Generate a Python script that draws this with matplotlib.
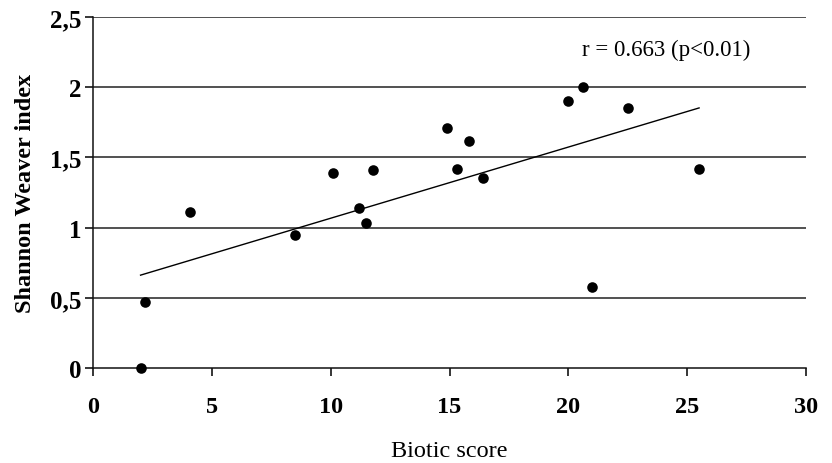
import numpy as np
import matplotlib
matplotlib.use('Agg')
import matplotlib.pyplot as plt

# Values
biotic_score = [2.0, 2.2, 4.1, 8.5, 10.1, 11.2, 11.5, 11.8, 14.9, 15.3,
                15.8, 16.4, 20.0, 20.6, 21.0, 22.5, 25.5]
shannon_weaver = [0.0, 0.47, 1.11, 0.95, 1.39, 1.14, 1.03, 1.41, 1.71, 1.42,
                  1.62, 1.35, 1.90, 2.00, 0.58, 1.85, 1.42]
x_ticks = [0, 5, 10, 15, 20, 25, 30]
y_ticks = [0, 0.5, 1, 1.5, 2, 2.5]
y_tick_labels = ['0', '0,5', '1', '1,5', '2', '2,5']
r_label = 'r = 0.663 (p<0.01)'

plt.rcParams['font.family'] = ['Liberation Serif', 'DejaVu Serif']

fig = plt.figure(figsize=(8.32, 4.64), dpi=100)
ax = fig.add_axes([0.1118, 0.2047, 0.857, 0.7565])

# horizontal gridlines
for yv in y_ticks[1:]:
    ax.axhline(yv, color='#222222', linewidth=1.1, zorder=1)

ax.scatter(biotic_score, shannon_weaver, s=58, color='black', zorder=3,
           clip_on=False, linewidths=0)

# linear fit across the data range
slope, intercept = np.polyfit(biotic_score, shannon_weaver, 1)
xs = np.array([min(biotic_score), max(biotic_score)])
ax.plot(xs, slope * xs + intercept, color='black', linewidth=1.0, zorder=2)

ax.text(0.686, 0.907, r_label, transform=ax.transAxes, fontsize=16.5,
        ha='left', va='center')

ax.set_xlim(0, 30)
ax.set_ylim(0, 2.5)
ax.set_xticks(x_ticks)
ax.set_yticks(y_ticks)
ax.set_yticklabels(y_tick_labels)

for side in ['top', 'right']:
    ax.spines[side].set_visible(False)
for side in ['left', 'bottom']:
    ax.spines[side].set_color('#111111')
    ax.spines[side].set_linewidth(1.1)

ax.tick_params(axis='x', direction='out', length=5.5, width=1.1, pad=15,
               labelsize=17.5)
ax.tick_params(axis='y', direction='out', length=5.5, width=1.1, pad=3,
               labelsize=18)
for lbl in ax.get_xticklabels() + ax.get_yticklabels():
    lbl.set_fontweight('bold')

ax.set_xlabel('Biotic score', fontsize=17.5, labelpad=16)
ax.set_ylabel('Shannon Weaver index', fontsize=17.5, labelpad=10,
              fontweight='semibold')

fig.savefig('out.png', dpi=100)
